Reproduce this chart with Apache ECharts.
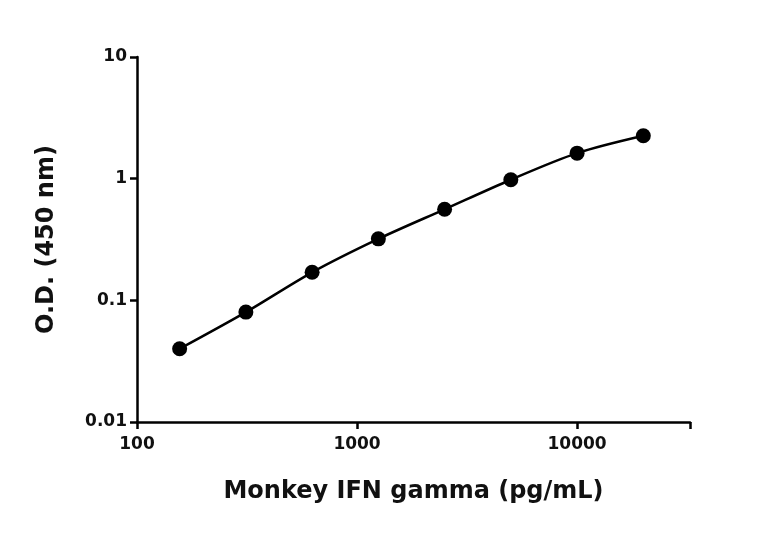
<!DOCTYPE html>
<html><head><meta charset="utf-8">
<script src="https://cdn.jsdelivr.net/npm/echarts@6/dist/echarts.min.js"></script>
<style>body{margin:0}#c{width:768px;height:534px}</style></head>
<body><div id="c"></div>
<script>
const concentrations = [156.25, 312.5, 625, 1250, 2500, 5000, 10000, 20000];
const odValues = [0.04, 0.08, 0.17, 0.32, 0.56, 0.98, 1.62, 2.25];
const xTitle = 'Monkey IFN gamma (pg/mL)';
const yTitle = 'O.D. (450 nm)';
const pts = concentrations.map((c,i)=>[c, odValues[i]]);
const font = 'DejaVu Sans';
const isDecade = v => Math.abs(Math.log10(v) - Math.round(Math.log10(v))) < 1e-6;
const chart = echarts.init(document.getElementById('c'));
chart.setOption({
  animation:false,
  grid:{left:137,right:78,top:57,bottom:112},
  xAxis:{type:'log',min:100,max:32600,logBase:10,
    name:xTitle,nameLocation:'middle',nameGap:58,
    nameTextStyle:{fontFamily:font,fontWeight:'bold',fontSize:24,color:'#111'},
    axisLine:{lineStyle:{color:'#000',width:2.5}},
    axisTick:{show:true,length:7,lineStyle:{width:2.5,color:'#000'}},
    axisLabel:{fontFamily:font,fontWeight:'bold',fontSize:17,color:'#111',margin:14,
      formatter:v=>isDecade(v)?String(Math.round(v)):''},
    splitLine:{show:false}},
  yAxis:{type:'log',min:0.01,max:10,logBase:10,
    name:yTitle,nameLocation:'middle',nameGap:78,
    nameTextStyle:{fontFamily:font,fontWeight:'bold',fontSize:24,color:'#111'},
    axisLine:{show:true,lineStyle:{color:'#000',width:2.5}},
    axisTick:{show:true,length:7,lineStyle:{width:2.5,color:'#000'}},
    axisLabel:{fontFamily:font,fontWeight:'bold',fontSize:17,color:'#111',margin:10,
      formatter:v=>String(+v.toPrecision(2))},
    splitLine:{show:false}},
  series:[{type:'line',data:pts,smooth:0.3,symbol:'circle',symbolSize:15,
    itemStyle:{color:'#000'},lineStyle:{color:'#000',width:2.5}}]
});
</script></body></html>
